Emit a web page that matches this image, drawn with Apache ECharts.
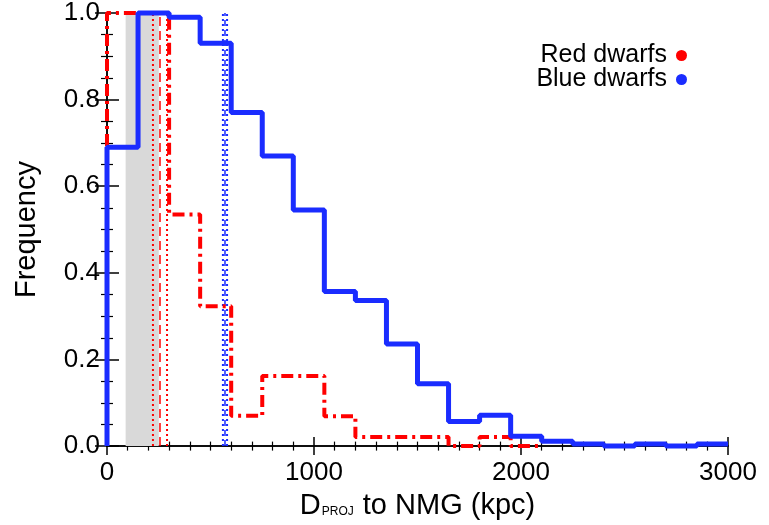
<!DOCTYPE html>
<html lang="en">
<head>
    <meta charset="UTF-8">
    <title>Dwarfs distance to NMG</title>
    <script src="https://cdn.jsdelivr.net/npm/echarts@6/dist/echarts.min.js"></script>
    <style>
        html, body { margin: 0; padding: 0; background: #fff; }
        #main { width: 769px; height: 525px; }
    </style>
</head>
<body>
<div id="main"></div>
<script>
    // left edges of the 150 kpc bins
    var binLeft = [0, 150, 300, 450, 600, 750, 900, 1050, 1200, 1350,
                   1500, 1650, 1800, 1950, 2100, 2250, 2400, 2550, 2700, 2850];
    var binWidth = 150;
    // normalised frequency per bin
    var blueFreq = [0.69, 1.00, 0.99, 0.93, 0.77, 0.67, 0.545, 0.357, 0.336, 0.236,
                    0.144, 0.057, 0.071, 0.023, 0.011, 0.005, 0.0, 0.005, 0.0, 0.005];
    var redFreq = [1.00, 1.00, 0.535, 0.323, 0.07, 0.162, 0.162, 0.069, 0.021, 0.021,
                   0.021, 0.0, 0.021, 0.0];
    // vertical markers (kpc): lower, median, upper
    var redLines = [222, 256, 290];
    var blueLines = [560, 570, 580];
    var shadedBand = [90, 250];
    var xTicks = [0, 1000, 2000, 3000];

    var RED = '#ff0000';
    var BLUE = '#1a2cff';
    var FONT = 'Liberation Sans, Arial, Helvetica, sans-serif';

    //把直方图转成阶梯折线的点
    function stepPoints(freq) {
        var pts = [[binLeft[0], 0]];
        for (var i = 0; i < freq.length; i++) {
            pts.push([binLeft[i], freq[i]]);
            pts.push([binLeft[i] + binWidth, freq[i]]);
        }
        return pts;
    }

    function vline(x, color, type, width) {
        return {
            type: 'line',
            data: [[x, 0], [x, 1]],
            symbol: 'none',
            silent: true,
            clip: false,
            lineStyle: {color: color, type: type, width: width},
            z: 3
        };
    }

    var chart = echarts.init(document.getElementById('main'));

    var axisCommon = {
        axisLine: {show: true, lineStyle: {color: '#000', width: 1.5}},
        splitLine: {show: false}
    };

    var legendText = {fontSize: 25, color: '#000', fontFamily: FONT, padding: [0, 4, 0, 0]};

    var option = {
        animation: false,
        backgroundColor: '#fff',
        textStyle: {fontFamily: FONT},
        grid: {left: 107, right: 41, top: 12, bottom: 76},
        legend: [{
            data: [{name: 'Red dwarfs', icon: 'circle', itemStyle: {color: RED, borderWidth: 0}}],
            right: 77, top: 38, align: 'right', itemWidth: 11, itemHeight: 11, itemGap: 0,
            textStyle: legendText
        }, {
            data: [{name: 'Blue dwarfs', icon: 'circle', itemStyle: {color: BLUE, borderWidth: 0}}],
            right: 77, top: 62, align: 'right', itemWidth: 11, itemHeight: 11, itemGap: 0,
            textStyle: legendText
        }],
        xAxis: [Object.assign({
            type: 'value', min: 0, max: 3000, interval: 1000,
            name: '{a|D}{b|PROJ}{a| to NMG (kpc)}',
            nameLocation: 'middle', nameGap: 42,
            nameTextStyle: {
                rich: {
                    a: {fontSize: 29, color: '#000', fontFamily: FONT},
                    b: {fontSize: 12, color: '#000', fontFamily: FONT, padding: [13, 1, 0, 1]}
                }
            },
            axisTick: {inside: true, length: 9, lineStyle: {color: '#000', width: 1.5}},
            minorTick: {show: true, splitNumber: 10, length: 4.5, lineStyle: {color: '#000', width: 1.2}},
            axisLabel: {fontSize: 26, color: '#000', margin: 14, fontFamily: FONT,
                formatter: function (v) { return xTicks.indexOf(v) >= 0 ? String(v) : ''; }}
        }, axisCommon), Object.assign({
            type: 'value', min: 0, max: 3000, interval: 1000, position: 'top',
            axisTick: {inside: true, length: 9, lineStyle: {color: '#000', width: 1.5}},
            minorTick: {show: true, splitNumber: 10, length: 4.5, lineStyle: {color: '#000', width: 1.2}},
            axisLabel: {show: false}
        }, axisCommon)],
        yAxis: [Object.assign({
            type: 'value', min: 0, max: 1, interval: 0.2,
            name: 'Frequency', nameLocation: 'middle', nameGap: 66,
            nameTextStyle: {fontSize: 29, color: '#000', fontFamily: FONT},
            axisTick: {inside: true, length: 12, lineStyle: {color: '#000', width: 1.5}},
            minorTick: {show: true, splitNumber: 4, length: 6, lineStyle: {color: '#000', width: 1.2}},
            axisLabel: {fontSize: 26, color: '#000', margin: 7, fontFamily: FONT,
                formatter: function (v) { return v.toFixed(1); }}
        }, axisCommon), Object.assign({
            type: 'value', min: 0, max: 1, interval: 0.2, position: 'right',
            axisTick: {inside: true, length: 12, lineStyle: {color: '#000', width: 1.5}},
            minorTick: {show: true, splitNumber: 4, length: 6, lineStyle: {color: '#000', width: 1.2}},
            axisLabel: {show: false}
        }, axisCommon)],
        series: [
            {
                // 灰色区域
                type: 'line', data: [], silent: true,
                markArea: {
                    silent: true,
                    itemStyle: {color: '#d9d9d9'},
                    data: [[{xAxis: shadedBand[0]}, {xAxis: shadedBand[1]}]]
                },
                z: 1
            },
            vline(redLines[0], RED, [2, 3], 2),
            vline(redLines[1], RED, [9, 5], 1.5),
            vline(redLines[2], RED, [2, 3], 2),
            vline(blueLines[0], BLUE, [2, 3], 2),
            vline(blueLines[1], BLUE, [6, 4], 1.5),
            vline(blueLines[2], BLUE, [2, 3], 2),
            {
                name: 'Red dwarfs',
                type: 'line',
                data: stepPoints(redFreq),
                symbol: 'none',
                clip: false,
                itemStyle: {color: RED},
                lineStyle: {color: RED, width: 4, type: [12, 5, 3, 5]},
                z: 4
            },
            {
                name: 'Blue dwarfs',
                type: 'line',
                data: stepPoints(blueFreq),
                symbol: 'none',
                clip: false,
                itemStyle: {color: BLUE},
                lineStyle: {color: BLUE, width: 5},
                z: 5
            }
        ]
    };
    chart.setOption(option);
</script>
</body>
</html>
